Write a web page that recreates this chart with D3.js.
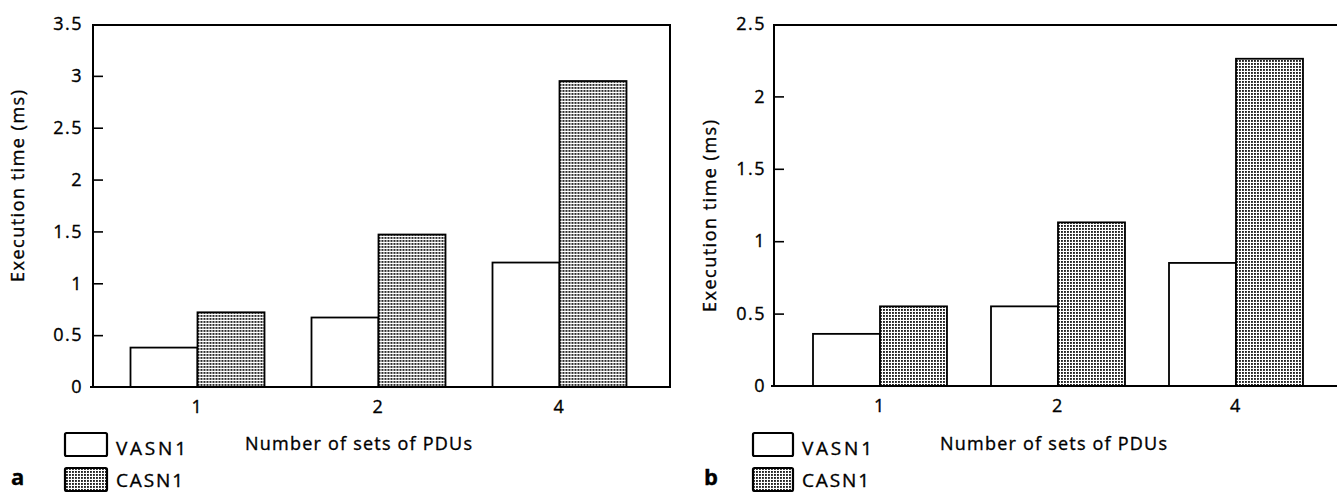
<!doctype html>
<html lang="en">
<head>
    <meta charset="UTF-8">
    <title>Execution time</title>
    <script src="https://cdnjs.cloudflare.com/ajax/libs/d3/7.8.5/d3.min.js"></script>
    <style>
        html, body {
            margin: 0;
            padding: 0;
            background: #fff;
            overflow: hidden;
        }
        text {
            font-family: "Open Sans", "DejaVu Sans", sans-serif;
            fill: #000;
            stroke: #000;
            stroke-width: 0.35px;
        }
        .tick text {
            font-size: 18px;
            letter-spacing: 1.5px;
        }
    </style>
</head>
<body>
<svg id="chart" width="1337" height="492"></svg>
<script>
    // values
    const categories = ["1", "2", "4"];
    const seriesNames = ["VASN1", "CASN1"];
    const vasnA = [0.38, 0.67, 1.2];
    const casnA = [0.72, 1.47, 2.95];
    const vasnB = [0.36, 0.55, 0.85];
    const casnB = [0.55, 1.13, 2.26];
    const yTicksA = [0, 0.5, 1, 1.5, 2, 2.5, 3, 3.5];
    const yTicksB = [0, 0.5, 1, 1.5, 2, 2.5];

    const svg = d3.select("#chart");

    // stipple used for CASN1
    const defs = svg.append("defs");
    const pat = defs.append("pattern")
        .attr("id", "dots")
        .attr("patternUnits", "userSpaceOnUse")
        .attr("width", 3)
        .attr("height", 3);
    pat.append("rect").attr("width", 3).attr("height", 3).attr("fill", "#fff");
    pat.append("rect").attr("width", 1.9).attr("height", 1.9).attr("fill", "#222");

    const fills = {VASN1: "#fff", CASN1: "url(#dots)"};

    function drawPanel(p) {
        const g = svg.append("g");
        const x = d3.scaleBand().domain(categories).range(p.band);
        const xs = d3.scaleBand().domain(seriesNames).range([-p.barW, p.barW]);
        const y = d3.scaleLinear().domain([0, p.yMax]).range([p.bottom, p.top]);

        const rows = categories.map((c, i) => ({cat: c, VASN1: p.vasn[i], CASN1: p.casn[i]}));

        // bars
        g.selectAll("g.grp")
            .data(rows)
            .enter().append("g")
            .attr("class", "grp")
            .attr("transform", d => "translate(" + (x(d.cat) + x.bandwidth() / 2) + ",0)")
            .selectAll("rect")
            .data(d => seriesNames.map(s => ({s: s, v: d[s]})))
            .enter().append("rect")
            .attr("x", d => xs(d.s))
            .attr("y", d => y(d.v))
            .attr("width", xs.bandwidth())
            .attr("height", d => p.bottom - y(d.v))
            .attr("fill", d => fills[d.s])
            .attr("stroke", "#000")
            .attr("stroke-width", 1.8);

        // frame
        g.append("path")
            .attr("d", "M" + (p.left - 3) + "," + p.bottom + "H" + p.right + "V" + (p.top + 1)
                + "H" + p.left + "V" + p.bottom)
            .attr("fill", "none")
            .attr("stroke", "#000")
            .attr("stroke-width", 2);

        // y axis, ticks pointing inward
        const ya = g.append("g")
            .attr("transform", "translate(" + p.left + ",0)")
            .call(d3.axisLeft(y).tickValues(p.yTicks).tickSize(-10).tickPadding(p.tickPad)
                .tickFormat(d3.format("")));
        ya.select(".domain").remove();
        ya.selectAll(".tick line").attr("stroke", "#000").attr("stroke-width", 1.6);
        ya.selectAll(".tick").filter(d => d === 0 || d === p.yMax).select("line").remove();

        // x axis labels only
        const xa = g.append("g")
            .attr("transform", "translate(0," + p.bottom + ")")
            .call(d3.axisBottom(x).tickSize(0).tickPadding(10));
        xa.select(".domain").remove();
        xa.selectAll(".tick text").attr("dy", "0.9em");

        g.append("text")
            .attr("transform", "translate(" + p.yLabelX + "," + p.yLabelY + ") rotate(-90)")
            .attr("text-anchor", "middle")
            .attr("font-size", 18)
            .attr("textLength", 192)
            .attr("lengthAdjust", "spacing")
            .text("Execution time (ms)");

        g.append("text")
            .attr("x", p.xTitleX)
            .attr("y", 450)
            .attr("font-size", 18)
            .attr("textLength", 227)
            .attr("lengthAdjust", "spacing")
            .text("Number of sets of PDUs");

        // legend
        seriesNames.forEach((s, i) => {
            g.append("rect")
                .attr("x", p.legX)
                .attr("y", 433 + i * 35)
                .attr("width", p.legW)
                .attr("height", 23)
                .attr("rx", 1.5)
                .attr("fill", fills[s])
                .attr("stroke", "#000")
                .attr("stroke-width", 2.2);
            g.append("text")
                .attr("x", p.legX + p.legW + 9)
                .attr("y", 455 + i * 32)
                .attr("font-size", 19)
                .attr("textLength", s === "VASN1" ? 70 : 67)
                .attr("lengthAdjust", "spacing")
                .text(s);
        });

        g.append("text")
            .attr("x", p.letterX)
            .attr("y", 485)
            .attr("font-size", 22)
            .attr("font-weight", "bold")
            .text(p.letter);
    }

    drawPanel({
        letter: "a", vasn: vasnA, casn: casnA, yMax: 3.5, yTicks: yTicksA,
        left: 93, right: 670, top: 24, bottom: 387, band: [107, 650], barW: 67,
        tickPad: 10, yLabelX: 24, yLabelY: 186, xTitleX: 245,
        legX: 65, legW: 42, letterX: 11
    });

    drawPanel({
        letter: "b", vasn: vasnB, casn: casnB, yMax: 2.5, yTicks: yTicksB,
        left: 774, right: 1345, top: 24, bottom: 386, band: [791, 1325], barW: 67,
        tickPad: 8, yLabelX: 716, yLabelY: 216, xTitleX: 940,
        legX: 753, legW: 40, letterX: 704
    });
</script>
</body>
</html>
